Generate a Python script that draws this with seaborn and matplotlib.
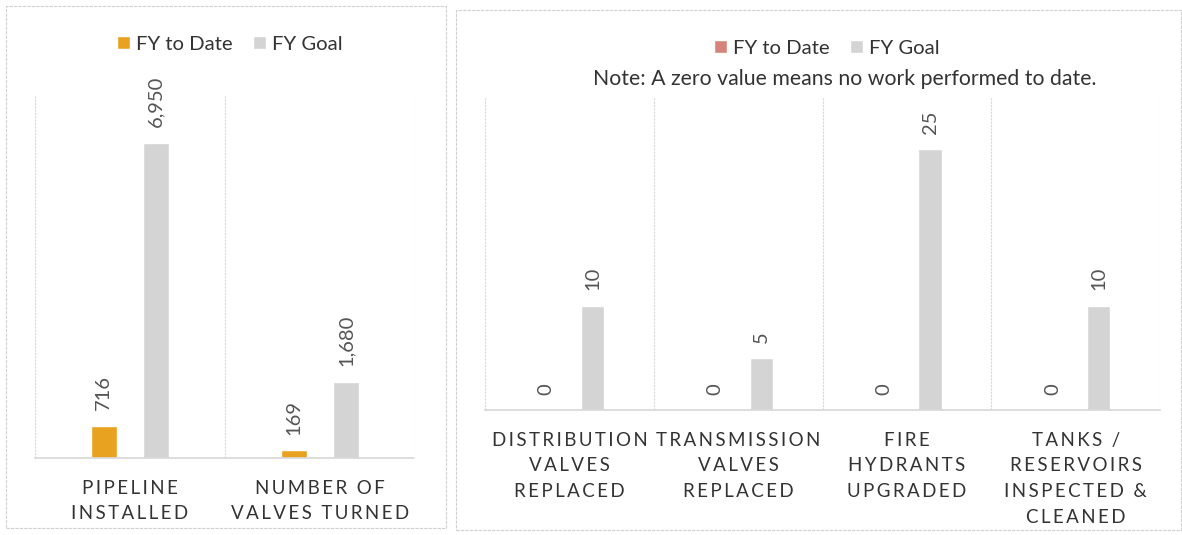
import matplotlib
matplotlib.use("Agg")
import matplotlib.pyplot as plt
import pandas as pd
import seaborn as sns
from matplotlib.patches import Rectangle
from matplotlib.ticker import FixedLocator

left_categories = ["PIPELINE\nINSTALLED", "NUMBER OF\nVALVES TURNED"]
left_to_date = [716, 169]
left_goal = [6950, 1680]

right_categories = [
    "DISTRIBUTION\nVALVES\nREPLACED",
    "TRANSMISSION\nVALVES\nREPLACED",
    "FIRE\nHYDRANTS\nUPGRADED",
    "TANKS /\nRESERVOIRS\nINSPECTED &\nCLEANED",
]
right_to_date = [0, 0, 0, 0]
right_goal = [10, 5, 25, 10]

series_names = ["FY to Date", "FY Goal"]
note_text = "Note: A zero value means no work performed to date."

sns.set_theme(style="white")
plt.rcParams["font.family"] = ["Lato", "DejaVu Sans"]

TEXT = "#333333"
LABEL = "#555555"
GRID = "#d8d8d8"


def spaced(label):
    # wide letter spacing like the original axis labels
    return "\n".join("\u2009".join(line) for line in label.split("\n"))


def long_frame(categories, to_date, goal):
    rows = []
    for cat, a, b in zip(categories, to_date, goal):
        rows.append({"category": spaced(cat), "series": series_names[0], "value": a})
        rows.append({"category": spaced(cat), "series": series_names[1], "value": b})
    return pd.DataFrame(rows)


def draw_panel(ax, frame, colors, ymax):
    sns.barplot(
        data=frame, x="category", y="value", hue="series",
        hue_order=series_names, palette=colors, width=0.55, gap=0.5,
        saturation=1, ax=ax, legend=True, errorbar=None,
    )
    ax.set_ylim(0, ymax)
    n = frame["category"].nunique()
    ax.set_xlim(-0.5, n - 0.5)
    for container in ax.containers:
        ax.bar_label(container, labels=[f"{v:,.0f}" for v in container.datavalues],
                     rotation=90, padding=11, fontsize=14.5, color=LABEL)
    ax.set_xlabel("")
    ax.set_ylabel("")
    ax.set_yticks([])
    ax.xaxis.set_minor_locator(FixedLocator([i - 0.5 for i in range(n + 1)]))
    ax.grid(True, which="minor", axis="x", color=GRID, lw=0.8, ls=(0, (2, 1)))
    ax.tick_params(axis="x", which="both", length=0, pad=15.5, labelsize=13.5, labelcolor=TEXT)
    for lbl in ax.get_xticklabels():
        lbl.set_linespacing(1.62)
    for side in ["top", "left", "right"]:
        ax.spines[side].set_visible(False)
    ax.spines["bottom"].set_color(GRID)
    ax.spines["bottom"].set_linestyle((0, (2, 1)))
    handles, labels = ax.get_legend_handles_labels()
    ax.get_legend().remove()
    return handles, labels


fig = plt.figure(figsize=(11.82, 5.35), dpi=100)

ax1 = fig.add_axes([35 / 1182, 1 - 458 / 535, 380 / 1182, 363 / 535])
h1, l1 = draw_panel(ax1, long_frame(left_categories, left_to_date, left_goal),
                    {"FY to Date": "#e8a220", "FY Goal": "#d4d4d4"}, 8000)

ax2 = fig.add_axes([485 / 1182, 1 - 410 / 535, 675 / 1182, 313 / 535])
h2, l2 = draw_panel(ax2, long_frame(right_categories, right_to_date, right_goal),
                    {"FY to Date": "#d4847a", "FY Goal": "#d4d4d4"}, 30)

leg_kw = dict(loc="center", ncol=2, frameon=False, fontsize=14.6, handlelength=0.65,
              handleheight=0.65, handletextpad=0.3, columnspacing=1.0, labelcolor=TEXT)
fig.legend(h1, l1, bbox_to_anchor=(230 / 1182, 1 - 44 / 535), **leg_kw)
fig.legend(h2, l2, bbox_to_anchor=(827 / 1182, 1 - 48 / 535), **leg_kw)
fig.text(845 / 1182, 1 - 79 / 535, note_text, ha="center", va="center",
         fontsize=15.3, color=TEXT)

for x0, y0, x1, y1 in [(6, 6, 446, 528), (456, 10, 1181, 530)]:
    fig.patches.append(Rectangle((x0 / 1182, 1 - y1 / 535), (x1 - x0) / 1182, (y1 - y0) / 535,
                                 transform=fig.transFigure, fill=False, edgecolor="#d0d0d0",
                                 lw=0.8, ls=(0, (3, 1))))

fig.savefig("out.png", dpi=100)
